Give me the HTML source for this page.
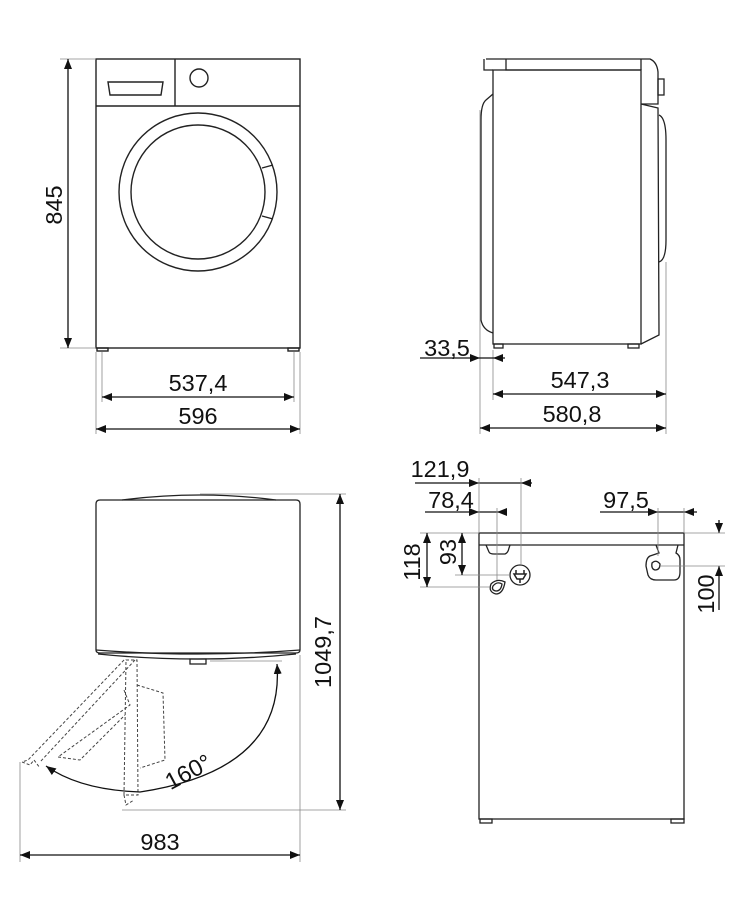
<!DOCTYPE html>
<html><head><meta charset="utf-8"><style>
html,body{margin:0;padding:0;background:#fff}
svg{display:block}
text{font-family:"Liberation Sans",sans-serif;font-size:23.5px;fill:#111}
</style></head><body>
<svg width="742" height="907" viewBox="0 0 742 907" xmlns="http://www.w3.org/2000/svg">
<defs>
<marker id="a" viewBox="0 0 10 8" refX="10" refY="4" markerWidth="10" markerHeight="8" markerUnits="userSpaceOnUse" orient="auto-start-reverse"><path d="M0,0L10,4L0,8z" fill="#111"/></marker>
</defs>
<g fill="none" stroke="#222" stroke-width="1.4">
<rect x="96" y="59" width="204" height="289"/>
<line x1="96" y1="106" x2="300" y2="106"/>
<line x1="175" y1="59" x2="175" y2="106"/>
<path d="M108,82 L163,82 L161,95 L110,95 Z"/>
<circle cx="199" cy="78" r="9"/>
<circle cx="198" cy="192" r="79"/>
<circle cx="198" cy="192" r="67"/>
<path d="M262,168 L273,165 M262,216 L273,219"/>
<rect x="97" y="348" width="11" height="3"/>
<rect x="288" y="348" width="11" height="3"/>
</g>
<g stroke="#888" stroke-width="0.8" fill="none">
<line x1="60" y1="59" x2="96" y2="59"/><line x1="60" y1="348" x2="96" y2="348"/>
<line x1="96" y1="352" x2="96" y2="434"/><line x1="300" y1="352" x2="300" y2="434"/>
<line x1="102" y1="352" x2="102" y2="402"/><line x1="294" y1="352" x2="294" y2="402"/>
</g>
<g stroke="#111" stroke-width="1.3">
<line x1="68" y1="59" x2="68" y2="348" marker-start="url(#a)" marker-end="url(#a)"/>
<line x1="102" y1="397" x2="294" y2="397" marker-start="url(#a)" marker-end="url(#a)"/>
<line x1="96" y1="429" x2="300" y2="429" marker-start="url(#a)" marker-end="url(#a)"/>
</g>
<text transform="translate(62,205) rotate(-90)" text-anchor="middle">845</text>
<text x="198" y="391" text-anchor="middle">537,4</text>
<text x="198" y="424" text-anchor="middle">596</text>

<!-- SIDE VIEW -->
<g fill="none" stroke="#222" stroke-width="1.3">
<rect x="493" y="70" width="148" height="274"/>
<path d="M486,59 L650,59 Q657,62 658,72 L658,104 L641,104 M484,59 L484,70 L493,70 M506,59 L506,70 L641,70 M641,59 L641,70"/>
<path d="M493,94 L486,100 Q481,104 481,120 L481,320 Q483,330 493,333"/>
<path d="M641,104 L658,108 L659,335 L641,344"/>
<rect x="658" y="79" width="6" height="16"/>
<path d="M659,115 Q666,118 666,140 L666,240 Q666,260 659,262"/>
<rect x="494" y="344" width="9" height="4"/><rect x="628" y="344" width="11" height="4"/>
</g>
<g stroke="#888" stroke-width="0.8">
<line x1="480" y1="110" x2="480" y2="434"/><line x1="666" y1="262" x2="666" y2="434"/>
<line x1="493" y1="350" x2="493" y2="400"/>
</g>
<g stroke="#111" stroke-width="1.3">
<line x1="420" y1="358" x2="505" y2="358"/>
<line x1="493" y1="394" x2="666" y2="394" marker-start="url(#a)" marker-end="url(#a)"/>
<line x1="480" y1="428" x2="666" y2="428" marker-start="url(#a)" marker-end="url(#a)"/>
<line x1="415" y1="483" x2="532" y2="483"/>
<line x1="425" y1="512" x2="507" y2="512"/>
<line x1="600" y1="512" x2="697" y2="512"/>
<line x1="719" y1="520" x2="719" y2="533"/>
<line x1="719" y1="566" x2="719" y2="610"/>
</g>
<g fill="#111">
<polygon points="470,354 480,358 470,362"/><polygon points="503,354 493,358 503,362"/>
<polygon points="469,479 479,483 469,487"/><polygon points="531,479 521,483 531,487"/>
<polygon points="469,508 479,512 469,516"/><polygon points="507,508 497,512 507,516"/>
<polygon points="648,508 658,512 648,516"/><polygon points="694,508 684,512 694,516"/>
<polygon points="715,523 719,533 723,523"/><polygon points="715,576 719,566 723,576"/>
</g>
<text x="447" y="356" text-anchor="middle">33,5</text>
<text x="580" y="388" text-anchor="middle">547,3</text>
<text x="572" y="422" text-anchor="middle">580,8</text>

<!-- TOP VIEW -->
<g fill="none" stroke="#222" stroke-width="1.3">
<path d="M100,500 L296,500 Q300,500 300,504 L300,650 Q300,653 296,653 L100,653 Q96,653 96,650 L96,504 Q96,500 100,500 Z"/>
<path d="M122,500 Q200,490 276,500"/>
<path d="M96,650 Q198,658 300,650 M98,654 Q198,664 296,654"/>
<rect x="190" y="659" width="16" height="5"/>
</g>
<g fill="none" stroke="#444" stroke-width="1" stroke-dasharray="3,2">
<path d="M124,660 L28,760 L22,762 M135,660 L40,762"/>
<path d="M126,660 L137,660 L138,795 L124,795 Z"/>
<path d="M137,685 L163,693 L165,760 L140,768"/>
<path d="M124,690 L130,705 L58,757 L80,760 L125,715"/>
<path d="M22,762 L30,765 L34,760 L40,768 M124,795 L126,805 L134,800"/>
</g>
<g stroke="#888" stroke-width="0.8">
<line x1="200" y1="494" x2="346" y2="494"/><line x1="122" y1="810" x2="346" y2="810"/>
<line x1="210" y1="661" x2="282" y2="661"/>
<line x1="20" y1="762" x2="20" y2="862"/><line x1="300" y1="655" x2="300" y2="862"/>
</g>
<g stroke="#111" stroke-width="1.3" fill="none">
<line x1="340" y1="494" x2="340" y2="810" marker-start="url(#a)" marker-end="url(#a)"/>
<line x1="20" y1="855" x2="300" y2="855" marker-start="url(#a)" marker-end="url(#a)"/>
<path d="M277,664 Q285,770 140,792 Q80,790 46,766" marker-start="url(#a)" marker-end="url(#a)"/>
</g>
<text transform="translate(331,652) rotate(-90)" text-anchor="middle">1049,7</text>
<text transform="translate(192,779) rotate(-28)" text-anchor="middle">160°</text>
<text x="160" y="850" text-anchor="middle">983</text>

<!-- REAR VIEW -->
<g fill="none" stroke="#222" stroke-width="1.3">
<rect x="479" y="533" width="205" height="286"/>
<line x1="479" y1="545" x2="684" y2="545"/>
<path d="M486,545 L489,552 Q490,554 494,554 L505,554 Q508,553 509,548 L510,545"/>
<circle cx="520" cy="575" r="10"/>
<path d="M516,570 L516,574 M524,570 L524,574 M514,574 L526,574 L523,579 L517,579 Z M520,579 L520,583" stroke-width="1.5"/>
<path d="M491,584 Q497,578 505,582 Q503,594 496,594 Q488,592 491,584 Z"/>
<path d="M493,586 Q497,581 502,584 Q501,591 496,591 Q491,590 493,586 Z"/>
<path d="M656,545 L659,553 L650,556 Q646,558 646,566 L648,575 Q650,580 656,580 L674,580 Q680,580 680,572 L680,560 Q680,555 676,553 L678,545"/>
<path d="M652,563 Q656,559 660,564 Q660,570 655,570 Q651,569 652,563 Z"/>
<rect x="480" y="819" width="12" height="4"/><rect x="671" y="819" width="13" height="4"/>
</g>
<g stroke="#888" stroke-width="0.8">
<line x1="479" y1="478" x2="479" y2="533"/><line x1="521" y1="478" x2="521" y2="565"/>
<line x1="497" y1="508" x2="497" y2="580"/>
<line x1="658" y1="508" x2="658" y2="556"/><line x1="684" y1="508" x2="684" y2="533"/>
<line x1="420" y1="533" x2="479" y2="533"/><line x1="455" y1="575" x2="510" y2="575"/><line x1="420" y1="587" x2="490" y2="587"/>
<line x1="684" y1="533" x2="725" y2="533"/><line x1="660" y1="566" x2="725" y2="566"/>
</g>
<g stroke="#111" stroke-width="1.3">
<line x1="427" y1="533" x2="427" y2="587" marker-start="url(#a)" marker-end="url(#a)"/>
<line x1="462" y1="533" x2="462" y2="575" marker-start="url(#a)" marker-end="url(#a)"/>
</g>
<text x="440" y="477" text-anchor="middle">121,9</text>
<text x="451" y="508" text-anchor="middle">78,4</text>
<text x="626" y="508" text-anchor="middle">97,5</text>
<text transform="translate(420,562) rotate(-90)" text-anchor="middle">118</text>
<text transform="translate(456,552) rotate(-90)" text-anchor="middle">93</text>
<text transform="translate(714,594) rotate(-90)" text-anchor="middle">100</text>
</svg>
</body></html>
